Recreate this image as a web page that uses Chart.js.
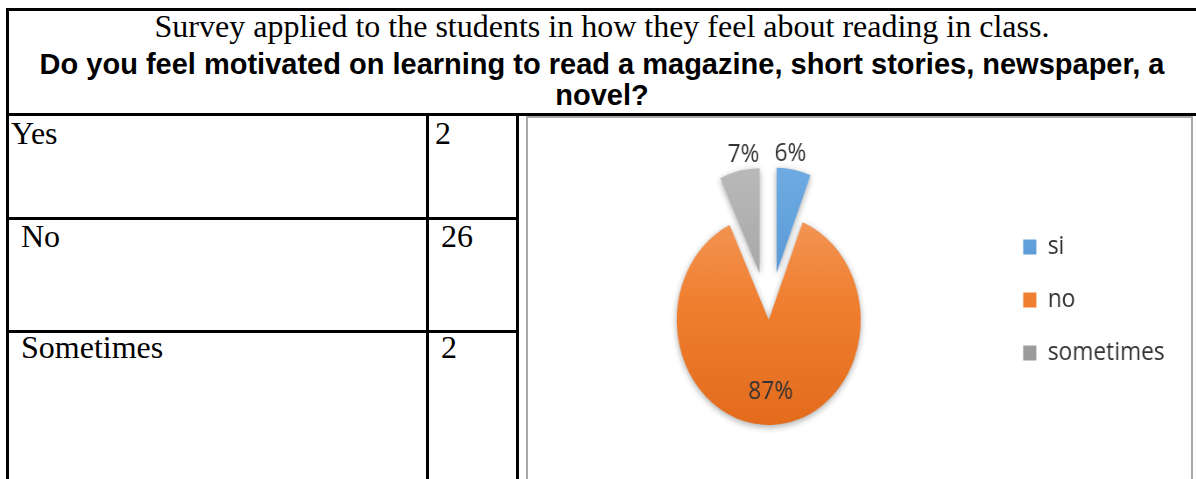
<!DOCTYPE html>
<html>
<head>
<meta charset="utf-8">
<title>Survey pie</title>
<script src="https://cdn.jsdelivr.net/npm/chart.js@4.4.1/dist/chart.umd.min.js"></script>
<style>
  html, body { margin: 0; padding: 0; background: #fff; }
  body { width: 1196px; height: 479px; position: relative; overflow: hidden; }
  .line { position: absolute; background: #000; }
  .serif { position: absolute; font-family: "Liberation Serif", "Times New Roman", serif; font-size: 32px; line-height: 32px; color: #000; white-space: nowrap; }
  .bold { position: absolute; font-family: "Liberation Sans", Arial, sans-serif; font-weight: bold; font-size: 29px; line-height: 29px; color: #000; white-space: nowrap; }
  .head { left: 7px; width: 1190px; text-align: center; }
  #box { position: absolute; left: 526px; top: 116px; width: 663px; height: 400px; border: 2px solid #a8a8a8; border-bottom: none; }
  #pie { position: absolute; left: 527px; top: 117px; transform: scaleX(0.876); transform-origin: 0 0; }
</style>
</head>
<body>
<div class="serif head" style="top:10px">Survey applied to the students in how they feel about reading in class.</div>
<div class="bold head" style="top:49.5px">Do you feel motivated on learning to read a magazine, short stories, newspaper, a</div>
<div class="bold head" style="top:80.5px">novel?</div>

<div class="line" style="left:6px;top:8px;width:1190px;height:3px"></div>
<div class="line" style="left:6px;top:8px;width:3px;height:471px"></div>
<div class="line" style="left:6px;top:113px;width:1190px;height:3px"></div>
<div class="line" style="left:426px;top:113px;width:3px;height:366px"></div>
<div class="line" style="left:516px;top:113px;width:3px;height:366px"></div>
<div class="line" style="left:6px;top:217px;width:513px;height:3px"></div>
<div class="line" style="left:6px;top:330px;width:513px;height:3px"></div>

<div id="cells"></div>
<div id="box"></div>
<canvas id="pie" width="758" height="362"></canvas>

<script>
// table rows
const categories = ["Yes", "No", "Sometimes"];
const counts = [2, 26, 2];

// pie chart
const pieLabels = ["si", "no", "sometimes"];
const pieShares = [6, 87, 7];

// where each row's text sits
const rowTops = [117, 220, 331];
const nameLefts = [11, 21, 21];
const countLefts = [435, 441, 441];

const cells = document.getElementById("cells");
for (let i = 0; i < categories.length; i++) {
  const name = document.createElement("div");
  name.className = "serif";
  name.style.left = nameLefts[i] + "px";
  name.style.top = rowTops[i] + "px";
  name.textContent = categories[i];
  cells.appendChild(name);

  const num = document.createElement("div");
  num.className = "serif";
  num.style.left = countLefts[i] + "px";
  num.style.top = rowTops[i] + "px";
  num.textContent = counts[i];
  cells.appendChild(num);
}

// light top / dark bottom, like the office chart
const shades = [
  ["#70ADE3", "#3F80C8"],
  ["#F5A673", "#F08031", "#E2691A"],
  ["#BBBBBB", "#8E8E8E"],
];

function sliceColor(c) {
  const s = shades[c.dataIndex] || shades[0];
  const area = c.chart.chartArea;
  if (!area) return s[s.length - 1];
  const g = c.chart.ctx.createLinearGradient(0, 40, 0, 320);
  s.forEach((col, k) => g.addColorStop(k / (s.length - 1), col));
  return g;
}

// pull the small slices away from the centre
const explodePlugin = {
  id: "explode",
  afterDatasetUpdate(chart, args) {
    const ds = chart.data.datasets[args.index];
    const dist = ds.explode || [];
    args.meta.data.forEach((arc, i) => {
      const d = dist[i] || 0;
      if (!d) return;
      const mid = (arc.startAngle + arc.endAngle) / 2;
      arc.x += Math.cos(mid) * d;
      arc.y += Math.sin(mid) * d;
    });
  },
};

const shadowPlugin = {
  id: "softShadow",
  beforeDatasetDraw(chart) {
    const c = chart.ctx;
    c.save();
    c.shadowColor = "rgba(0,0,0,0.35)";
    c.shadowBlur = 7;
    c.shadowOffsetY = 2;
  },
  afterDatasetDraw(chart) {
    chart.ctx.restore();
  },
};

// percentage labels: small slices outside, big one inside
const pctPlugin = {
  id: "pctLabels",
  afterDatasetsDraw(chart, args, opts) {
    const ctx = chart.ctx;
    const meta = chart.getDatasetMeta(0);
    const total = pieShares.reduce((a, b) => a + b, 0);
    ctx.save();
    ctx.font = opts.font;
    ctx.fillStyle = opts.color;
    ctx.textAlign = "center";
    ctx.textBaseline = "middle";
    meta.data.forEach((arc, i) => {
      const mid = (arc.startAngle + arc.endAngle) / 2;
      let x, y;
      if (pieShares[i] / total < 0.25) {
        // outside end, kept close over the slice
        x = arc.x + Math.cos(mid) * arc.outerRadius * 0.8;
        y = arc.y + Math.sin(mid) * (arc.outerRadius + opts.outside);
      } else {
        x = arc.x + Math.cos(mid) * arc.outerRadius * opts.inside;
        y = arc.y + Math.sin(mid) * arc.outerRadius * opts.inside;
      }
      ctx.fillText(pieShares[i] + "%", x, y);
    });
    ctx.restore();
  },
};

var ctx = document.getElementById("pie").getContext("2d");
var myChart = new Chart(ctx, {
  type: "pie",
  data: {
    labels: pieLabels,
    datasets: [
      {
        data: pieShares,
        backgroundColor: sliceColor,
        borderWidth: 0,
        radius: 105,
        explode: [48, 0, 48],
      },
    ],
  },
  options: {
    responsive: false,
    animation: false,
    layout: { padding: { left: 12.5, right: 20, top: 90, bottom: 46 } },
    plugins: {
      tooltip: { enabled: false },
      legend: {
        position: "right",
        align: "start",
        labels: {
          boxWidth: 15,
          boxHeight: 15,
          padding: 27,
          color: "#333333",
          font: { family: "Open Sans", size: 26 },
        },
      },
      pctLabels: { font: "26px 'Open Sans'", color: "#333333", outside: 16, inside: 0.68 },
    },
  },
  plugins: [explodePlugin, shadowPlugin, pctPlugin],
});
</script>
</body>
</html>
